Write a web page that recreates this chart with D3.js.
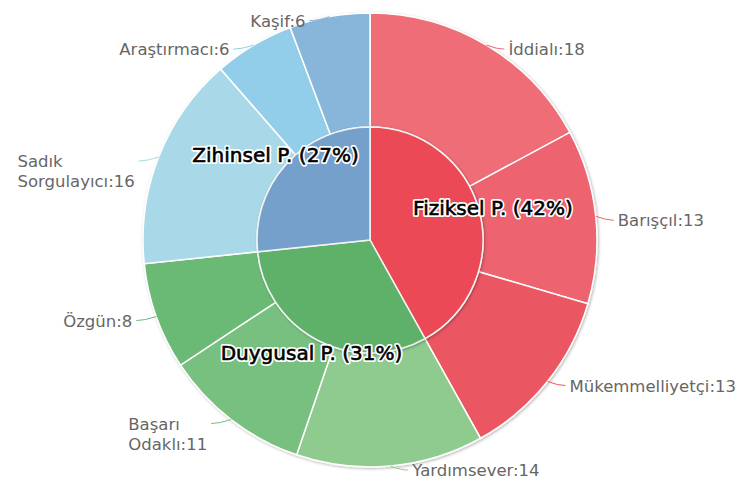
<!DOCTYPE html>
<html lang="tr">
  <head>
    <meta charset="utf-8">
    <title>Kişilik tipleri</title>
    <style>
      body { margin: 0; background: #fff; }
      svg { display: block; }
    </style>
  </head>
  <body>
    <div id="chart-area"></div>
    <script src="https://cdn.jsdelivr.net/npm/d3@7"></script>
    <script>
      // groups (inner pie)
      const groups = ['Fiziksel P.', 'Duygusal P.', 'Zihinsel P.'];
      const group_colors = ['#eb4a55', '#5fb169', '#74a0cb'];

      // types (outer ring)
      const types = ['İddialı', 'Barışçıl', 'Mükemmelliyetçi', 'Yardımsever', 'Başarı Odaklı',
        'Özgün', 'Sadık Sorgulayıcı', 'Araştırmacı', 'Kaşif'];
      const type_values = [18, 13, 13, 14, 11, 8, 16, 6, 6];
      const type_group = [0, 0, 0, 1, 1, 1, 2, 2, 2];
      const type_colors = ['#ef6d77', '#ed6470', '#eb5663', '#8fca8f', '#77c07f', '#6bba75',
        '#a9d9e8', '#92cee9', '#87b6da'];

      const svg_width = 740;
      const svg_height = 484;
      const cx = 370, cy = 240;
      const r_inner = 113;
      const r_outer = 227;

      const outer_data = types.map((t, i) => ({
        name: t, value: type_values[i], group: type_group[i], color: type_colors[i]
      }));
      const group_sums = groups.map((g, gi) => d3.sum(outer_data.filter(d => d.group === gi), d => d.value));
      const total = d3.sum(group_sums);
      const inner_data = groups.map((g, i) => ({name: g, value: group_sums[i], color: group_colors[i]}));

      const pie = d3.pie().sort(null).value(d => d.value);
      const inner_arcs = pie(inner_data);
      const outer_arcs = pie(outer_data);

      const arc_in = d3.arc().innerRadius(0).outerRadius(r_inner);
      const arc_out = d3.arc().innerRadius(r_inner).outerRadius(r_outer);

      const svg = d3.select('#chart-area')
        .append('svg')
        .attr('width', svg_width)
        .attr('height', svg_height);

      const defs = svg.append('defs');
      const f = defs.append('filter').attr('id', 'shadow')
        .attr('x', '-10%').attr('y', '-10%').attr('width', '120%').attr('height', '120%');
      f.append('feDropShadow')
        .attr('dx', 1).attr('dy', 1).attr('stdDeviation', 1.5)
        .attr('flood-color', '#000').attr('flood-opacity', 0.3);

      const g = svg.append('g').attr('transform', `translate(${cx},${cy})`);

      // outer ring
      g.append('g').attr('filter', 'url(#shadow)')
        .selectAll('path')
        .data(outer_arcs)
        .enter()
        .append('path')
        .attr('d', arc_out)
        .attr('fill', d => d.data.color)
        .attr('stroke', '#fff')
        .attr('stroke-width', 1.5);

      // inner pie
      g.append('g').attr('filter', 'url(#shadow)')
        .selectAll('path')
        .data(inner_arcs)
        .enter()
        .append('path')
        .attr('d', arc_in)
        .attr('fill', d => d.data.color)
        .attr('stroke', '#f2f2f2')
        .attr('stroke-width', 1.5);

      // outer labels + connectors
      const font = '"DejaVu Sans", Verdana, sans-serif';
      const mid = d => (d.startAngle + d.endAngle) / 2;
      outer_arcs.forEach(d => {
        const a = mid(d);
        const right = Math.sin(a) > 0;
        const px = Math.sin(a) * r_outer;
        const py = -Math.cos(a) * r_outer;
        const lx = px + (right ? 22 : -24);
        const ly = py + 4;

        g.append('path')
          .attr('d', `M${px},${py} Q${(px + lx) / 2},${ly} ${lx + (right ? -4 : 4)},${ly}`)
          .attr('fill', 'none')
          .attr('stroke', d.data.color)
          .attr('stroke-width', 1);

        const words = d.data.name.split(' ');
        const lines = words.length > 1 ? [words[0], words.slice(1).join(' ') + ':' + d.data.value]
          : [d.data.name + ':' + d.data.value];
        const txt = g.append('text')
          .attr('font-family', font)
          .attr('font-size', '16.5px')
          .attr('fill', '#666')
          .attr('dominant-baseline', 'central');
        lines.forEach((l, i) => {
          txt.append('tspan').attr('x', 0).attr('y', ly + i * 20).text(l);
        });
        const w = txt.node().getBBox().width;
        txt.attr('transform', `translate(${right ? lx : lx - w},0)`);
      });

      // inner labels
      const r_label = 127;
      inner_arcs.forEach(d => {
        const a = mid(d);
        const x = Math.sin(a) * r_label;
        const y = -Math.cos(a) * r_label;
        const label = `${d.data.name} (${Math.round(d.data.value / total * 100)}%)`;
        g.append('text')
          .attr('x', x).attr('y', y)
          .attr('text-anchor', 'middle')
          .attr('dominant-baseline', 'central')
          .attr('font-family', font)
          .attr('font-size', '20px')
          .attr('fill', 'none')
          .attr('stroke', '#fff')
          .attr('stroke-width', 4)
          .attr('stroke-linejoin', 'round')
          .text(label);
        g.append('text')
          .attr('x', x).attr('y', y)
          .attr('text-anchor', 'middle')
          .attr('dominant-baseline', 'central')
          .attr('font-family', font)
          .attr('font-size', '20px')
          .attr('fill', '#000')
          .attr('stroke', '#000')
          .attr('stroke-width', 0.6)
          .text(label);
      });
    </script>
  </body>
</html>
